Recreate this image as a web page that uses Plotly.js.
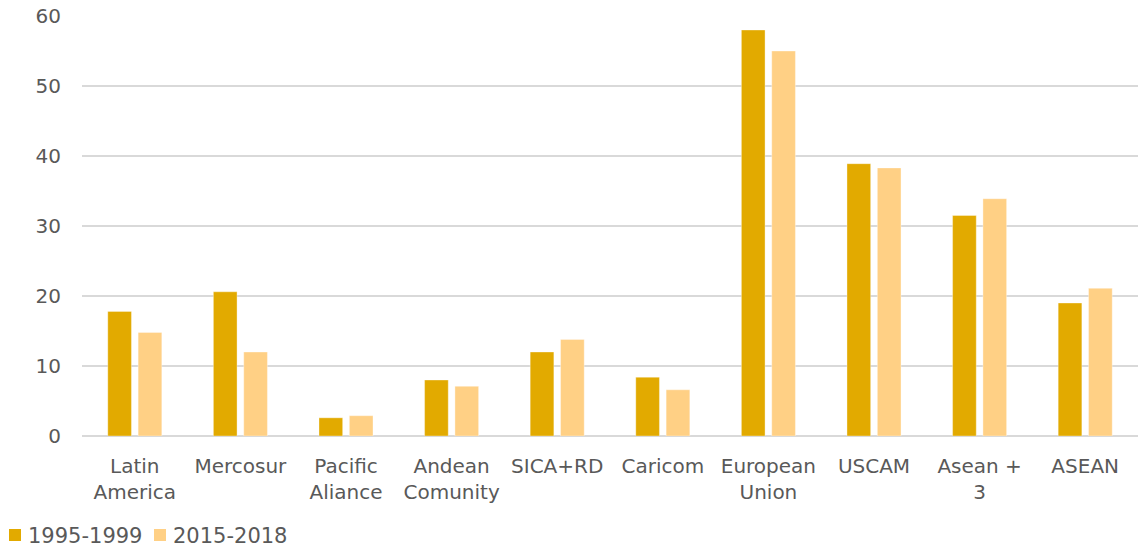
<!DOCTYPE html>
<html>
<head>
<meta charset="utf-8">
<script src="https://cdn.plot.ly/plotly-3.0.1.min.js"></script>
<style>html,body{margin:0;padding:0;background:#fff;}#chart{width:1146px;height:548px;}</style>
</head>
<body>
<div id="chart"></div>
<script>
const categories = ["Latin<br>America","Mercosur","Pacific<br>Aliance","Andean<br>Comunity","SICA+RD","Caricom","European<br>Union","USCAM","Asean +<br>3","ASEAN"];
const seriesNames = ["1995-1999", "2015-2018"];
const series1995 = [17.8, 20.6, 2.6, 8.0, 12.0, 8.4, 58.0, 38.9, 31.5, 19.0];
const series2015 = [14.8, 12.0, 2.9, 7.1, 13.8, 6.6, 55.0, 38.3, 33.9, 21.1];
const yTicks = [0, 10, 20, 30, 40, 50, 60];
const colors = ["#E2AA00", "#FFD085"];

const font = {family: "DejaVu Sans, Verdana, sans-serif", size: 20, color: "#595959"};
const legendFont = {family: "DejaVu Sans, Verdana, sans-serif", size: 21, color: "#595959"};

const traces = [
  {type: "bar", name: seriesNames[0], x: categories, y: series1995,
   marker: {color: colors[0], line: {color: "rgba(255,255,255,0.35)", width: 1}}, hoverinfo: "skip"},
  {type: "bar", name: seriesNames[1], x: categories, y: series2015,
   marker: {color: colors[1], line: {color: "rgba(255,255,255,0.35)", width: 1}}, hoverinfo: "skip"}
];

// legend: coloured squares (shapes) + series names (annotations), placed in pixel terms
const PL = 82, PW = 1056, PB = 436, PH = 420;
const px = v => (v - PL) / PW;
const py = v => (PB - v) / PH;
const swatchLeft = [9, 154];
const textLeft = [26, 170.5];
const shapes = seriesNames.map((n, i) => ({
  type: "rect", xref: "paper", yref: "paper",
  x0: px(swatchLeft[i]), x1: px(swatchLeft[i] + 12), y0: py(541), y1: py(529),
  fillcolor: colors[i], line: {width: 0}
}));
const annotations = seriesNames.map((n, i) => ({
  xref: "paper", yref: "paper",
  x: px(textLeft[i]), y: py(535.5),
  xanchor: "left", yanchor: "middle", showarrow: false,
  text: n, font: legendFont
}));

const layout = {
  width: 1146, height: 548,
  margin: {l: 82, r: 8, t: 16, b: 112},
  paper_bgcolor: "#fff", plot_bgcolor: "#fff",
  font: font,
  barmode: "group",
  bargap: 0.425,
  bargroupgap: 0.22,
  showlegend: false,
  shapes: shapes,
  annotations: annotations,
  xaxis: {type: "category", showgrid: false, showline: false, zeroline: false,
          ticks: "", tickfont: font, ticklabelstandoff: 16, automargin: false},
  yaxis: {range: [0, 60], tickvals: yTicks, showgrid: true, gridcolor: "#d9d9d9", gridwidth: 1.3,
          zeroline: true, zerolinecolor: "#d9d9d9", zerolinewidth: 1.5, showline: false,
          ticks: "", tickfont: font, ticklabelstandoff: 20, automargin: false}
};

Plotly.newPlot("chart", traces, layout, {displayModeBar: false, staticPlot: true});
</script>
</body>
</html>
